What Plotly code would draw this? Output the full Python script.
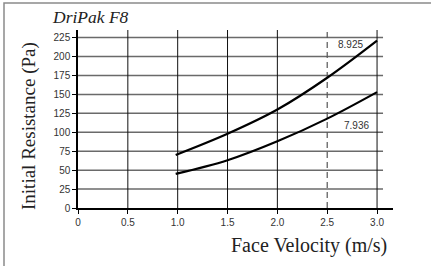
import plotly.graph_objects as go

velocity = [0.98, 1.5, 2.0, 2.5, 3.0]
upper_pa = [70, 98, 130, 172, 221]
lower_pa = [45, 63, 88, 118, 153]
upper_label = "8.925"
lower_label = "7.936"
x_ticks = [0, 0.5, 1.0, 1.5, 2.0, 2.5, 3.0]
x_tick_text = ["0", "0.5", "1.0", "1.5", "2.0", "2.5", "3.0"]
y_ticks = [0, 25, 50, 75, 100, 125, 150, 175, 200, 225]
dashed_x = 2.5

X_MAX, Y_MAX = 3.16, 235
L, R, T, B = 78, 38, 30, 58
PW, PH = 431 - L - R, 266 - T - B


def px(xpix):
    return (xpix - L) / PW


def py(ypix):
    return (266 - B - ypix) / PH


fig = go.Figure()
shapes = []
for yv in y_ticks[1:]:
    shapes.append(dict(type="line", xref="x", yref="y", x0=0, x1=3.06, y0=yv, y1=yv,
                       line=dict(color="#6a6a6a", width=1.5), layer="below"))
for xv in x_ticks[1:]:
    if xv == dashed_x:
        shapes.append(dict(type="line", xref="x", yref="y", x0=xv, x1=xv, y0=0, y1=Y_MAX,
                           line=dict(color="#555555", width=1.2, dash="6px,4px"), layer="below"))
    else:
        shapes.append(dict(type="line", xref="x", yref="y", x0=xv, x1=xv, y0=0, y1=Y_MAX,
                           line=dict(color="#111111", width=1), layer="below"))
# outer frame (left and top edges visible)
shapes.append(dict(type="rect", xref="paper", yref="paper", x0=px(4), x1=px(440), y0=py(275), y1=py(3),
                   line=dict(color="#8a8a8a", width=1.5), fillcolor="rgba(0,0,0,0)"))

fig.add_trace(go.Scatter(x=velocity, y=upper_pa, mode="lines", hoverinfo="skip",
                         line=dict(color="black", width=2.2, shape="spline"), showlegend=False))
fig.add_trace(go.Scatter(x=velocity, y=lower_pa, mode="lines", hoverinfo="skip",
                         line=dict(color="black", width=2.2, shape="spline"), showlegend=False))

fig.add_annotation(x=2.585, y=215.5, text=upper_label, showarrow=False, xanchor="left",
                   font=dict(family="Liberation Sans, Arial", size=10, color="#333"))
fig.add_annotation(x=2.65, y=108.5, text=lower_label, showarrow=False, xanchor="left",
                   font=dict(family="Liberation Sans, Arial", size=10, color="#333"))

fig.add_annotation(xref="paper", yref="paper", x=px(50), y=py(17),
                   text="<i>DriPak F8</i>", showarrow=False, xanchor="left", yanchor="middle",
                   font=dict(family="Liberation Serif, serif", size=17.5, color="#222"))
fig.add_annotation(xref="paper", yref="paper", x=px(389), y=py(245),
                   text="Face Velocity (m/s)", showarrow=False, xanchor="right", yanchor="middle",
                   font=dict(family="Liberation Serif, serif", size=20, color="#222"))
fig.add_annotation(xref="paper", yref="paper", x=px(29), y=py(126),
                   text="Initial Resistance (Pa)", showarrow=False, textangle=-90,
                   xanchor="center", yanchor="middle",
                   font=dict(family="Liberation Serif, serif", size=19, color="#222"))

fig.update_layout(
    width=431, height=266,
    margin=dict(l=L, r=R, t=T, b=B, autoexpand=False),
    paper_bgcolor="white", plot_bgcolor="white",
    shapes=shapes,
    xaxis=dict(range=[0, X_MAX], tickvals=x_ticks, ticktext=x_tick_text, showgrid=False,
               zeroline=False, showline=True, linecolor="black", linewidth=1.5, automargin=False,
               ticks="outside", ticklen=4, tickcolor="black", tickwidth=1,
               tickfont=dict(family="Liberation Sans, Arial", size=10, color="#333")),
    yaxis=dict(range=[0, Y_MAX], tickvals=y_ticks, showgrid=False, automargin=False,
               zeroline=False, showline=True, linecolor="black", linewidth=1.5,
               ticks="outside", ticklen=4, tickcolor="black", tickwidth=1,
               tickfont=dict(family="Liberation Sans, Arial", size=10, color="#333")),
)

fig.write_html("out.html", config={"displayModeBar": False},
               post_script="document.body.style.margin='0';")
